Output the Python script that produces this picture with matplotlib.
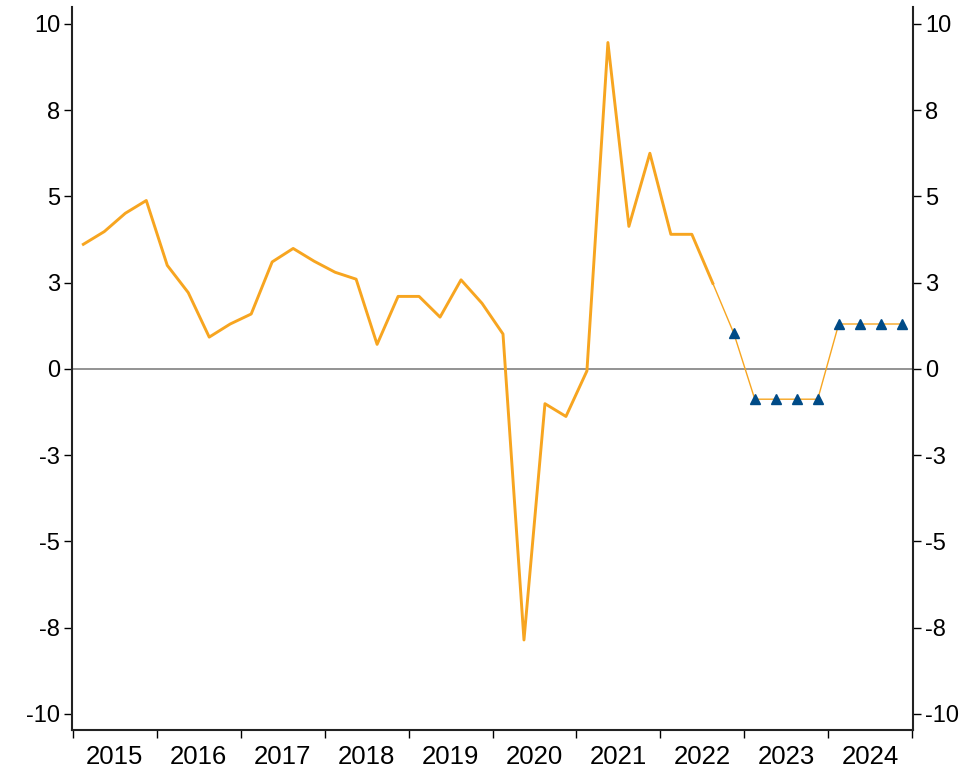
import numpy as np
from matplotlib import pyplot as plt

plt.rcParams['font.family'] = ['Liberation Sans', 'DejaVu Sans']

# quarterly values, 2015Q1 .. 2022Q3 (outturn)
actual = [3.61, 3.98, 4.51, 4.88, 3.00, 2.21, 0.92, 1.30, 1.59, 3.10,
          3.49, 3.12, 2.80, 2.60, 0.71, 2.10, 2.10, 1.50, 2.58, 1.90,
          1.01, -7.86, -1.01, -1.38, -0.06, 9.46, 4.13, 6.25, 3.90, 3.90,
          2.48]
# 2022Q4 .. 2024Q4 (projection)
forecast = [1.03, -0.88, -0.88, -0.88, -0.88, 1.30, 1.30, 1.30, 1.30]

years = list(range(2015, 2025))
yticks = [-10, -7.5, -5, -2.5, 0, 2.5, 5, 7.5, 10]
ylabels = ['-10', '-8', '-5', '-3', '0', '3', '5', '8', '10']

orange = '#F7A520'
blue = '#004B87'

n_act = len(actual)
n_all = n_act + len(forecast)
xq = 2015 + (np.arange(n_all) + 0.5) / 4

fig = plt.figure(figsize=(9.71, 7.71), dpi=100)
ax = fig.add_axes([72/971, 41/771, (913-72)/971, (764-41)/771])

ax.axhline(0, color='#808080', lw=1.2, zorder=1)
ax.plot(xq[:n_act], actual, color=orange, lw=2.1, zorder=2)
ax.plot(xq[n_act-1:], [actual[-1]] + forecast, color=orange, lw=1.0, zorder=2)
ax.plot(xq[n_act:], forecast, ls='none', marker='^', ms=7, color=blue, zorder=3)

ax.set_xlim(2014.99, 2025.01)
ax.set_ylim(-10.47, 10.49)

ax.set_yticks(yticks)
ax.set_yticklabels(ylabels)
ax.tick_params(axis='y', which='major', direction='out', length=6, width=1,
               left=True, right=True, labelleft=True, labelright=True,
               labelsize=17, pad=2.5)

ax.set_xticks(years + [2025])
ax.set_xticklabels([])
ax.set_xticks([y + 0.5 for y in years], minor=True)
ax.set_xticklabels([str(y) for y in years], minor=True)
ax.tick_params(axis='x', which='major', direction='out', length=6, width=1)
ax.tick_params(axis='x', which='minor', length=0, labelsize=18.5, pad=11)

ax.spines['top'].set_visible(False)
for s in ['left', 'right', 'bottom']:
    ax.spines[s].set_linewidth(1.5)
    ax.spines[s].set_color('#222222')

plt.savefig('out.png', dpi=100)
